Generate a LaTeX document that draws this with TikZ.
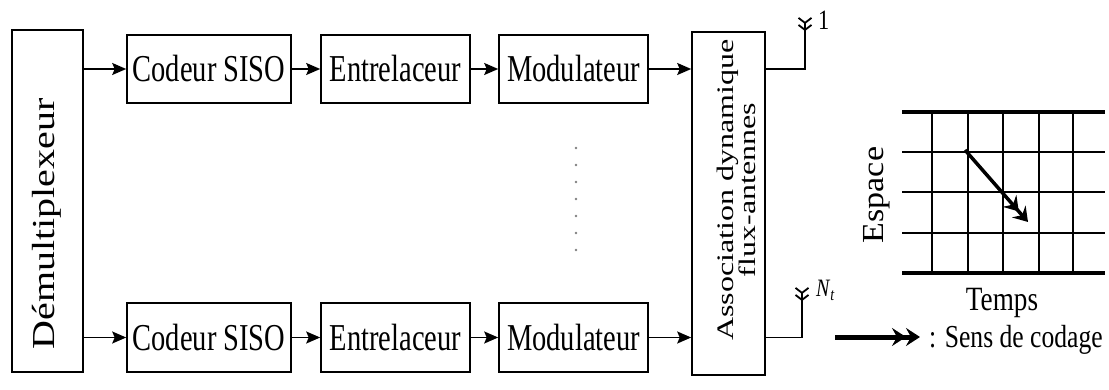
\documentclass[tikz,border=0pt]{standalone}
\usepackage{fontspec}
\setmainfont{Liberation Serif}
\usepackage{graphicx}
\usetikzlibrary{arrows.meta}

% narrow lettering: horizontal text, and text that gets turned upright
\newcommand{\etroit}[2][.75]{\scalebox{#1}[1]{#2}}
\newcommand{\etroitv}[2][.8]{\scalebox{1}[#1]{#2}}

\tikzset{
  bloc/.style={draw, line width=1.6pt, minimum height=68, inner sep=0pt,
    font=\fontsize{38}{40}\selectfont},
  fil/.style={line width=1.6pt, -{Stealth[length=14pt,width=12pt,inset=2.5pt]}},
  antenne/.style={line width=1.6pt,
    -{Straight Barb[reversed,length=5pt,width=13pt,line width=1.8pt]
      Straight Barb[reversed,length=5pt,width=13pt,line width=1.8pt]}},
  sens/.style={-{Stealth[length=14pt,width=18pt,inset=5pt]
      Stealth[length=14pt,width=18pt,inset=5pt]}},
  grille/.style={line width=1.6pt},
}

\begin{document}
\begin{tikzpicture}[x=1pt, y=-1pt]
\useasboundingbox (0,0) rectangle (1109,390);

% demultiplexeur
\node [bloc, minimum width=71, minimum height=342] (demux) at (47.5,201) {};
\node [rotate=90, font=\fontsize{40}{40}\selectfont] (tdemux) at (47,224) {\etroitv{Démultiplexeur}};

% first chain
\node [bloc, minimum width=164] (cod1) at (209,69) {\etroit{Codeur SISO}};
\node [bloc, minimum width=149] (ent1) at (395.5,69) {\etroit{Entrelaceur}};
\node [bloc, minimum width=149] (mod1) at (573.5,69) {\etroit{Modulateur}};

% last chain
\node [bloc, minimum width=164, minimum height=69] (cod2) at (209,337.5) {\etroit{Codeur SISO}};
\node [bloc, minimum width=149, minimum height=69] (ent2) at (395.5,337.5) {\etroit{Entrelaceur}};
\node [bloc, minimum width=149, minimum height=69] (mod2) at (573.5,337.5) {\etroit{Modulateur}};

% flux -> antennes
\node [bloc, minimum width=73, minimum height=343] (assoc) at (728.5,203.5) {};
\node [rotate=90, font=\fontsize{32}{26}\selectfont] (tassoc) at (739,190)
  {\etroitv[.74]{\begin{tabular}{@{}c@{}}Association dynamique\\flux-antennes\end{tabular}}};

\draw [fil] (demux.east |- cod1) -- (cod1);
\draw [fil] (cod1) -- (ent1);
\draw [fil] (ent1) -- (mod1);
\draw [fil] (mod1) -- (assoc.west |- mod1);

\draw [fil] (demux.east |- cod2) -- (cod2);
\draw [fil] (cod2) -- (ent2);
\draw [fil] (ent2) -- (mod2);
\draw [fil] (mod2) -- (assoc.west |- mod2);

\foreach \y in {148,165,...,250}
  \fill [gray] (576,\y) circle (1.3pt);

% antennes
\coordinate (ant1) at (805,17);
\coordinate (ant2) at (802,287);
\draw [antenne] (assoc.east |- mod1) -| (ant1);
\draw [antenne] (assoc.east |- mod2) -| (ant2);
\node [anchor=base west, inner sep=0pt, font=\fontsize{28}{28}\selectfont] (n1) at (818,30) {\etroit[.8]{1}};
\node [anchor=base west, inner sep=0pt, font=\fontsize{25}{25}\selectfont] (nt) at (816,297)
  {\etroit[.8]{\textit{N}\textsubscript{\textit{t}}}};

% espace-temps
\foreach \x in {932,968,1003,1039,1073}
  \draw [grille] (\x,112) -- (\x,273);
\foreach \y in {152,192,233}
  \draw [grille] (902,\y) -- (1105,\y);
\draw [line width=4.5pt] (902,112) -- (1105,112);
\draw [line width=4.5pt] (902,273) -- (1105,273);
\draw [sens, line width=3.5pt] (965,150) -- (1028,222);

\node [rotate=90, font=\fontsize{34}{34}\selectfont] (esp) at (877,195) {\etroitv[.9]{Espace}};
\node [anchor=base, font=\fontsize{34}{34}\selectfont] (tps) at (1002,311) {\etroit[.8]{Temps}};

% legende
\draw [sens, line width=5pt] (835,337) -- (920,337);
\node [anchor=base west, inner sep=0pt, font=\fontsize{32}{32}\selectfont] (leg) at (929,347)
  {\etroit[.8]{: Sens de codage}};
\end{tikzpicture}
\end{document}
